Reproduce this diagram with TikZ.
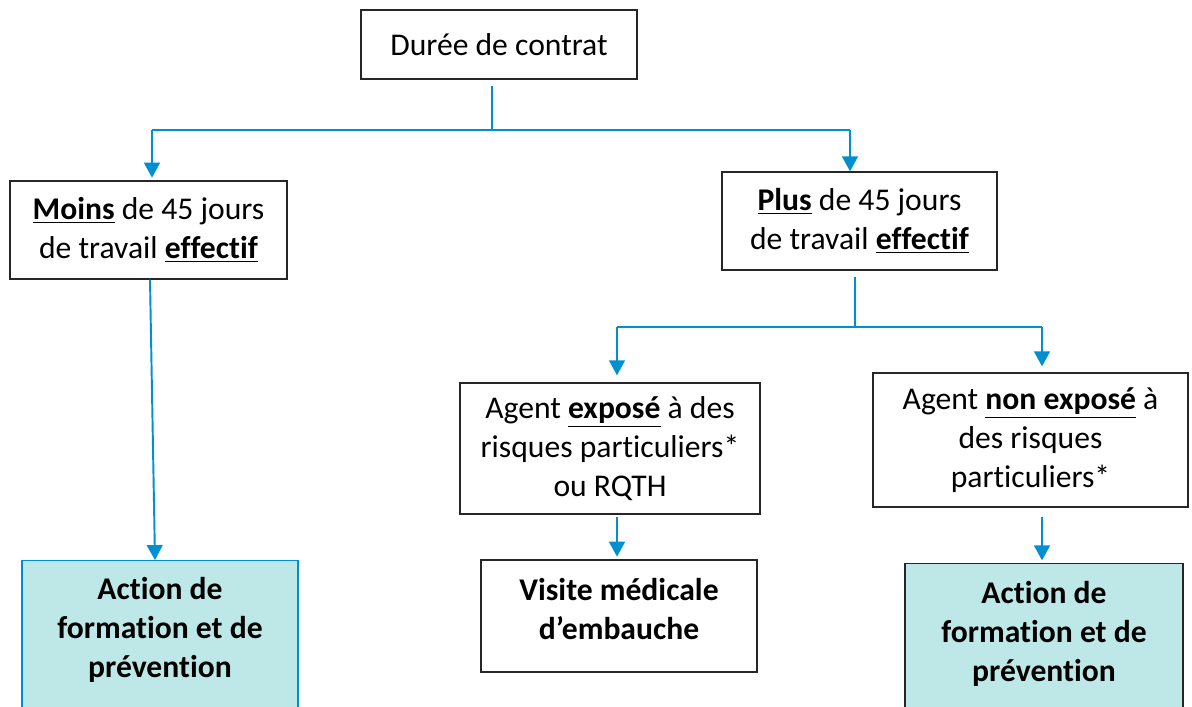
\documentclass[tikz,border=0pt]{standalone}
\usepackage{fontspec}
\setmainfont{Carlito}[Ligatures=NoCommon]
\usetikzlibrary{arrows.meta}
\definecolor{linkblue}{RGB}{0,144,210}
\definecolor{actfill}{RGB}{190,232,232}
\tikzset{
  box/.style={draw=black!85, line width=0.8pt, fill=white, align=center,
    font=\fontsize{18}{22}\selectfont, inner sep=0pt},
  actbox/.style={box, fill=actfill},
  boldtxt/.style={align=center, font=\fontsize{18}{22}\selectfont\bfseries, inner sep=0pt},
  link/.style={draw=linkblue, line width=1.1pt},
  arr/.style={link, -{Triangle[width=9pt,length=8.5pt]}},
}

\begin{document}
\begin{tikzpicture}[x=0.02cm,y=-0.02cm]
	\useasboundingbox (0,0) rectangle (1192,706);
	\clip (0,0) rectangle (1192,706);
	%%  Boxes  %%%%%%%%
	\node[box, minimum width=5.52cm, minimum height=1.38cm] (duree) at (499,44.5) {Durée de contrat};
	\node[box, minimum width=5.54cm, minimum height=1.96cm] (moins) at (148.5,230)
		{\underline{\textbf{Moins}} de 45 jours\\de travail \underline{\textbf{effectif}}};
	\node[box, minimum width=5.5cm, minimum height=1.96cm] (plus) at (859.5,221)
		{\underline{\textbf{Plus}} de 45 jours\\de travail \underline{\textbf{effectif}}};
	\node[box, minimum width=6cm, minimum height=2.62cm] (expose) at (610,448.5)
		{Agent \underline{\textbf{exposé}} à des\\risques particuliers*\\ou RQTH};
	\node[box, minimum width=6.3cm, minimum height=2.68cm] (nonexpose) at (1030.5,440)
		{Agent \underline{\textbf{non exposé}} à\\des risques\\particuliers*};
	\node[box, minimum width=5.52cm, minimum height=2.24cm] (visite) at (619,616) {};
	\node[boldtxt] (visitetxt) at (619,609) {Visite médicale\\d’embauche};
	%%  Actions  %%%%%%%%
	\node[actbox, draw=linkblue, minimum width=5.52cm, minimum height=3.2cm, anchor=north] (act1) at (160,560) {};
	\node[boldtxt] (act1txt) at (160,630) {Action de\\formation et de\\prévention};
	\node[actbox, minimum width=5.56cm, minimum height=3.2cm, anchor=north] (act2) at (1044,563) {};
	\node[boldtxt] (act2txt) at (1044,634) {Action de\\formation et de\\prévention};
	%%  Connectors  %%%%%%%%
	\coordinate (j1) at (492,130);
	\coordinate (j1l) at (152,130);
	\coordinate (j1r) at (850,130);
	\draw[link] (duree.south -| j1) ++(0,6) -- (j1);
	\draw[link] (j1l) -- (j1r);
	\draw[arr, shorten >=1.5pt] (j1l) -- (j1l |- moins.north);
	\draw[arr] (j1r) -- (j1r |- plus.north);
	\draw[arr] ([xshift=0.03cm]moins.south) -- ([xshift=-0.1cm]act1.north);
	\coordinate (j2) at (855,327);
	\coordinate (j2l) at (617,327);
	\coordinate (j2r) at (1042,327);
	\draw[link] (plus.south -| j2) ++(0,6) -- (j2);
	\draw[link] (j2l) -- (j2r);
	\draw[arr, shorten >=4pt] (j2l) -- (j2l |- expose.north);
	\draw[arr, shorten >=3.4pt] (j2r) -- (j2r |- nonexpose.north);
	\draw[arr, shorten >=1.5pt] (expose.south -| j2l) ++(0,2) -- (j2l |- visite.north);
	\draw[arr, shorten >=1.5pt] (nonexpose.south -| j2r) ++(0,9) -- (j2r |- act2.north);
	%%%%%%%%%%%%%%%
\end{tikzpicture}
\end{document}
